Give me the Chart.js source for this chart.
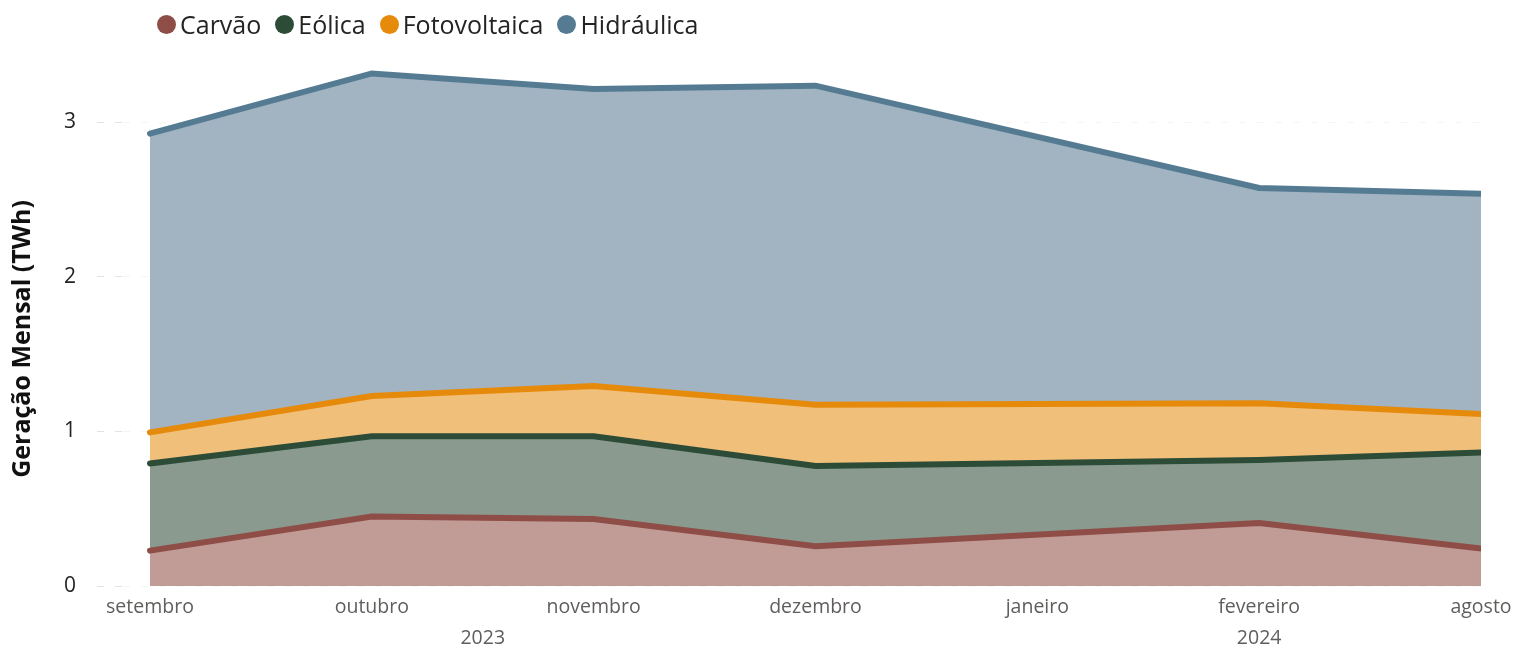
<!DOCTYPE html>
<html lang="pt">
<head>
    <meta charset="UTF-8">
    <title>Geração Mensal</title>
    <style>
        body {
            margin: 0;
            background: #ffffff;
            font-family: "Open Sans", "Noto Sans", sans-serif;
        }

        #wrap {
            position: relative;
            width: 1514px;
            height: 648px;
        }

        /* legend drawn in HTML so it can sit where the original one sits */
        #legend {
            position: absolute;
            left: 157px;
            top: 7px;
            display: flex;
            align-items: center;
            font-size: 25px;
            color: #252423;
        }

        #legend .item {
            display: flex;
            align-items: center;
            margin-right: 14px;
        }

        #legend .dot {
            width: 19px;
            height: 19px;
            border-radius: 50%;
            margin-right: 4px;
        }
    </style>
    <script src="https://cdn.jsdelivr.net/npm/chart.js"></script>
</head>
<body>
    <div id="wrap">
        <canvas id="chart" width="1514" height="648"></canvas>
        <div id="legend"></div>
    </div>

    <script>
        // x axis months (janeiro has no data point)
        const months = ['setembro', 'outubro', 'novembro', 'dezembro', 'janeiro', 'fevereiro', 'agosto'];
        const dataMonths = ['setembro', 'outubro', 'novembro', 'dezembro', 'fevereiro', 'agosto'];

        // TWh per month, per source
        const carvao       = [0.229, 0.450, 0.434, 0.257, 0.408, 0.242];
        const eolica       = [0.564, 0.518, 0.534, 0.519, 0.407, 0.622];
        const fotovoltaica = [0.201, 0.261, 0.326, 0.397, 0.367, 0.249];
        const hidraulica   = [1.933, 2.087, 1.922, 2.064, 1.393, 1.425];

        const seriesNames = ['Carvão', 'Eólica', 'Fotovoltaica', 'Hidráulica'];
        const lineColors  = ['#8E4E47', '#2D4C38', '#E68A0B', '#557B93'];
        const fillColors  = ['#C19B96', '#8A9A8F', '#F0BF79', '#A2B4C1'];

        const yTicks = [0, 1, 2, 3];
        const yTitle = 'Geração Mensal (TWh)';
        const yearLabels = ['2023', '2024'];
        const yearSpans  = [['setembro', 'dezembro'], ['janeiro', 'agosto']];

        const allSeries = [carvao, eolica, fotovoltaica, hidraulica];

        const datasets = allSeries.map((values, i) => ({
            label: seriesNames[i],
            data: values.map((v, j) => ({ x: months.indexOf(dataMonths[j]), y: v })),
            borderColor: lineColors[i],
            backgroundColor: fillColors[i],
            borderWidth: 6,
            borderCapStyle: 'round',
            pointRadius: 0,
            tension: 0,
            fill: i === 0 ? 'origin' : '-1'
        }));

        // year labels under the month ticks, and the y axis title
        const extraText = {
            id: 'extraText',
            afterDraw(chart) {
                const xs = chart.scales.x;
                const ctx = chart.ctx;
                ctx.save();
                ctx.font = '19.5px "Open Sans"';
                ctx.fillStyle = '#605E5C';
                ctx.textAlign = 'center';
                ctx.textBaseline = 'middle';
                yearLabels.forEach((label, i) => {
                    const a = xs.getPixelForValue(months.indexOf(yearSpans[i][0]));
                    const b = xs.getPixelForValue(months.indexOf(yearSpans[i][1]));
                    ctx.fillText(label, (a + b) / 2, 638);
                });

                ctx.translate(23, 339);
                ctx.rotate(-Math.PI / 2);
                ctx.font = 'bold 25px "Open Sans"';
                ctx.fillStyle = '#111111';
                ctx.fillText(yTitle, 0, 0);
                ctx.restore();
            }
        };

        const chart = new Chart(document.getElementById('chart'), {
            type: 'line',
            data: { datasets: datasets },
            plugins: [extraText],
            options: {
                responsive: false,
                animation: false,
                layout: { padding: { top: 45, right: 33, left: 0, bottom: 0 } },
                plugins: {
                    legend: { display: false },
                    tooltip: { enabled: false }
                },
                scales: {
                    x: {
                        type: 'linear',
                        min: -27 / 222,
                        max: months.length - 1,
                        afterBuildTicks(scale) {
                            scale.ticks = months.map((m, i) => ({ value: i }));
                        },
                        afterFit(scale) {
                            scale.height = 62;
                            scale.paddingLeft = 0;
                            scale.paddingRight = 0;
                        },
                        grid: { display: false, drawTicks: false },
                        border: { display: false },
                        ticks: {
                            padding: 10,
                            maxRotation: 0,
                            autoSkip: false,
                            color: '#605E5C',
                            font: { family: 'Open Sans', size: 19.5 },
                            callback: (v) => months[v]
                        }
                    },
                    y: {
                        stacked: true,
                        min: 0,
                        max: 3.5,
                        afterBuildTicks(scale) {
                            scale.ticks = yTicks.map(v => ({ value: v }));
                        },
                        afterFit(scale) {
                            scale.width = 123;
                        },
                        grid: {
                            color: '#f5f5f5',
                            tickColor: '#e2e2e2',
                            tickLength: 26,
                            tickBorderDash: [7, 11]
                        },
                        border: { display: false, dash: [7, 11] },
                        ticks: {
                            padding: 21,
                            color: '#252423',
                            font: { family: 'Open Sans', size: 21 }
                        }
                    }
                }
            }
        });

        // build the legend from the datasets
        const legend = document.getElementById('legend');
        chart.data.datasets.forEach(ds => {
            const item = document.createElement('div');
            item.className = 'item';
            const dot = document.createElement('span');
            dot.className = 'dot';
            dot.style.background = ds.borderColor;
            const text = document.createElement('span');
            text.textContent = ds.label;
            item.appendChild(dot);
            item.appendChild(text);
            legend.appendChild(item);
        });
    </script>
</body>
</html>
